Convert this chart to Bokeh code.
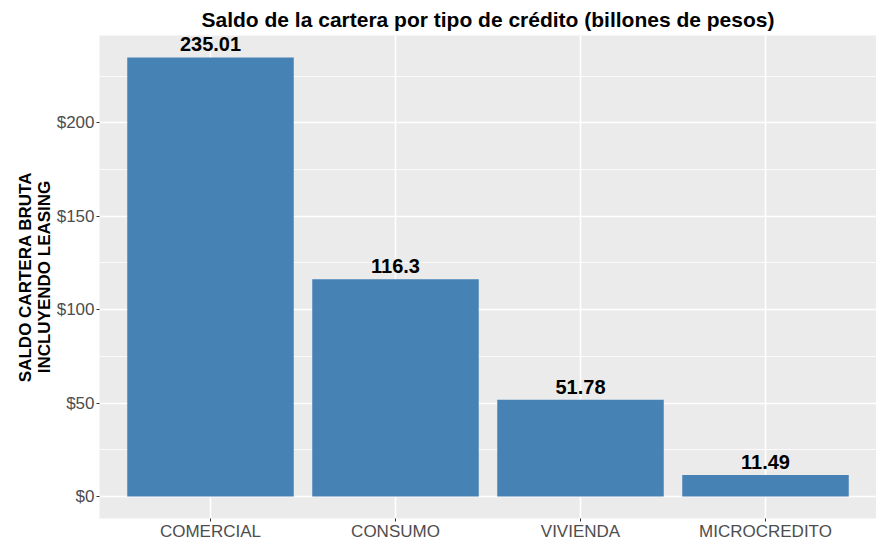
from bokeh.plotting import figure
from bokeh.models import ColumnDataSource, FactorRange, SingleIntervalTicker, NumeralTickFormatter, LabelSet
from bokeh.core.properties import value
from bokeh.embed import file_html
from bokeh.resources import INLINE

categories = ["COMERCIAL", "CONSUMO", "VIVIENDA", "MICROCREDITO"]
saldo = [235.01, 116.3, 51.78, 11.49]
labels = [f"{v:g}" for v in saldo]

FONT = "Liberation Sans"

src = ColumnDataSource(dict(cat=categories, val=saldo, lab=labels))

ymax = max(saldo)
p = figure(
    width=876, height=543,
    x_range=FactorRange(*categories, range_padding=0.1, range_padding_units="absolute"),
    y_range=(-0.05 * ymax, ymax * 1.05),
    output_backend="svg", toolbar_location=None,
    min_border_left=99, min_border_right=0, min_border_top=31, min_border_bottom=20,
    background_fill_color="#EBEBEB", border_fill_color="white",
    title="Saldo de la cartera por tipo de crédito (billones de pesos)",
)
p.outline_line_color = None

p.title.align = "center"
p.title.text_font = FONT
p.title.text_font_size = "21px"
p.title.text_font_style = "bold"
p.title.text_color = "black"

p.vbar(x="cat", top="val", bottom=0, width=0.9, source=src,
       fill_color="#4682B4", line_color=None)

lbl = LabelSet(x="cat", y="val", text="lab", source=src,
               text_font=value(FONT), text_font_size=value("20px"), text_font_style=value("bold"),
               text_color=value("black"), text_align=value("center"),
               text_baseline=value("alphabetic"), y_offset=6)
p.add_layout(lbl)

# grid
p.ygrid.ticker = SingleIntervalTicker(interval=50, num_minor_ticks=2)
p.yaxis.ticker = SingleIntervalTicker(interval=50, num_minor_ticks=2)
p.ygrid.grid_line_color = "white"
p.ygrid.grid_line_width = 1.6
p.ygrid.minor_grid_line_color = "white"
p.ygrid.minor_grid_line_width = 0.8
p.xgrid.grid_line_color = "white"
p.xgrid.grid_line_width = 1.6

for ax in (p.xaxis[0], p.yaxis[0]):
    ax.axis_line_color = None
    ax.major_tick_out = 3
    ax.major_tick_in = 0
    ax.minor_tick_out = 0
    ax.minor_tick_in = 0
    ax.major_tick_line_color = "#333333"
    ax.major_label_text_font = FONT
    ax.major_label_text_font_size = "17px"
    ax.major_label_text_color = "#4D4D4D"

p.yaxis.formatter = NumeralTickFormatter(format="$0")
p.yaxis.major_label_standoff = 2
p.xaxis.major_label_standoff = 0
p.yaxis.axis_label = "SALDO CARTERA BRUTA\nINCLUYENDO LEASING"
p.yaxis.axis_label_text_font = FONT
p.yaxis.axis_label_text_font_size = "17px"
p.yaxis.axis_label_text_font_style = "bold"
p.yaxis.axis_label_text_color = "black"
p.yaxis.axis_label_text_line_height = 1.0
p.yaxis.axis_label_standoff = 0

open("out.html", "w").write(file_html(p, INLINE))
